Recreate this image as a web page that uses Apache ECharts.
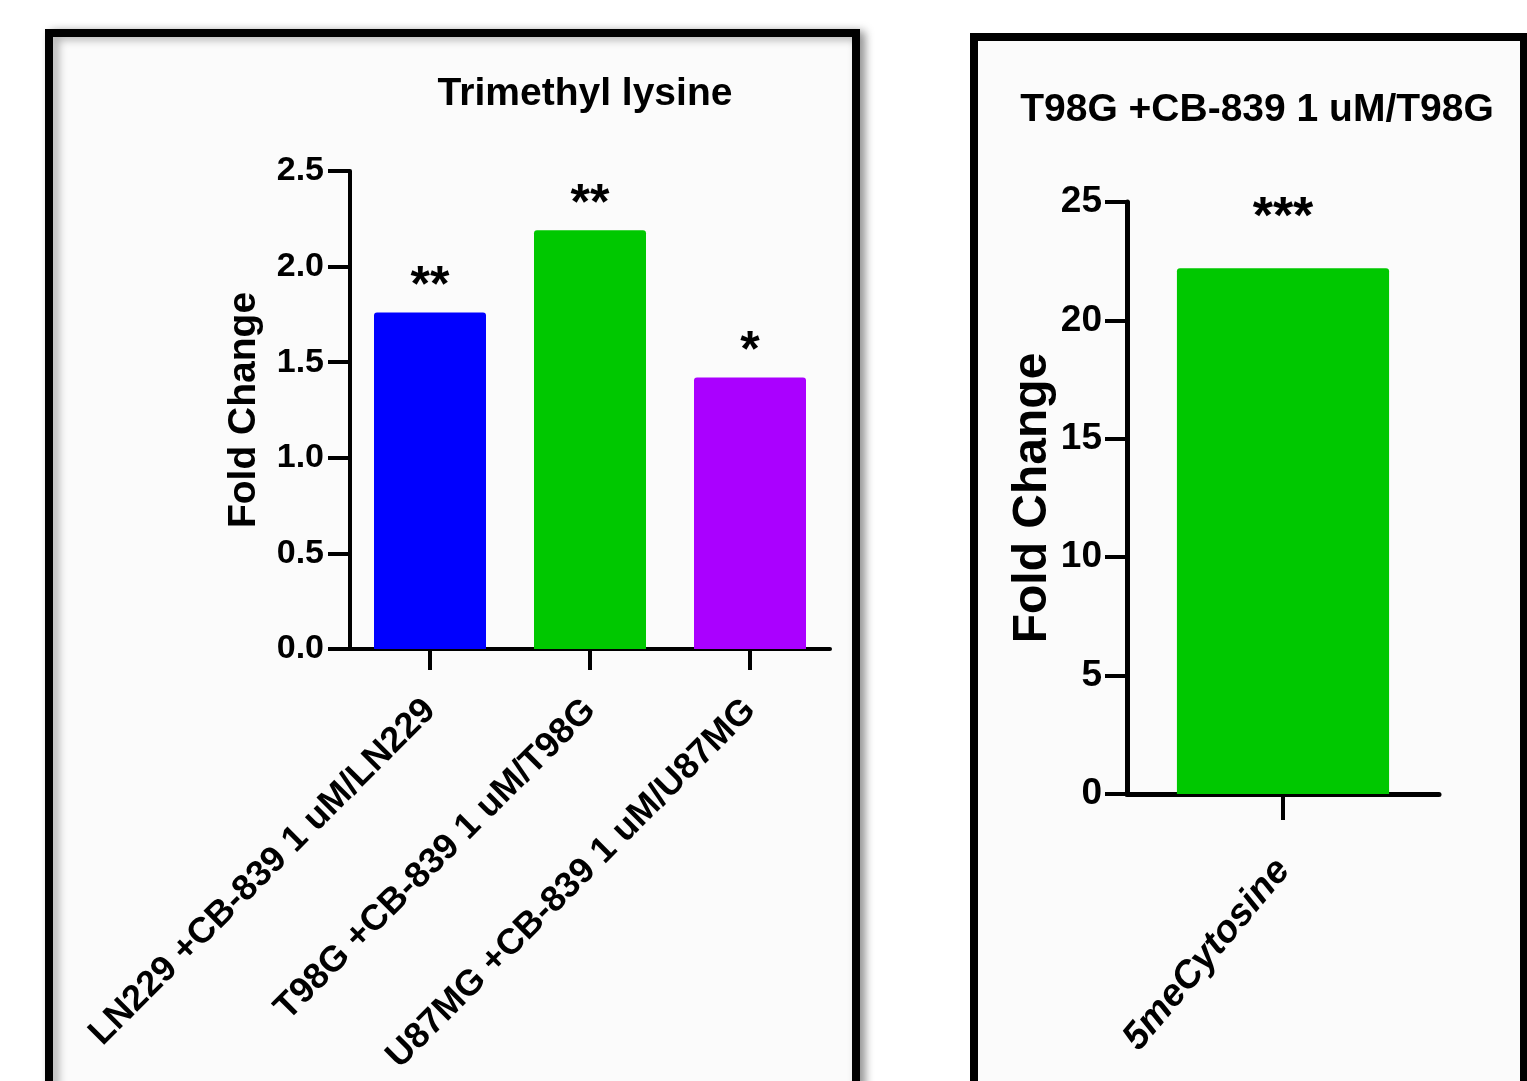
<!DOCTYPE html>
<html>
<head>
<meta charset="utf-8">
<title>Fold Change</title>
<script src="https://cdn.jsdelivr.net/npm/echarts@6/dist/echarts.min.js"></script>
<style>
  html, body { margin: 0; padding: 0; background: #ffffff; }
  #main { width: 1527px; height: 1081px; }
</style>
</head>
<body>
<div id="main"></div>
<script>
// left panel - Trimethyl lysine
var lysineCats = ['LN229 +CB-839 1 uM/LN229', 'T98G +CB-839 1 uM/T98G', 'U87MG +CB-839 1 uM/U87MG'];
var lysineVals = [1.76, 2.19, 1.42];
var lysineSig = ['**', '**', '*'];
var lysineColors = ['#0000ff', '#00c800', '#aa00ff'];
var lysineTicks = [0, 0.5, 1.0, 1.5, 2.0, 2.5];

// right panel - 5meCytosine
var cytoCats = ['5meCytosine'];
var cytoVals = [22.2];
var cytoSig = ['***'];
var cytoTicks = [0, 5, 10, 15, 20, 25];

var arial = '"Liberation Sans", Arial, sans-serif';

var chart = echarts.init(document.getElementById('main'), null, { renderer: 'canvas' });

function axisLine(w) {
  return { show: true, lineStyle: { color: '#000', width: w } };
}

var option = {
  animation: false,
  backgroundColor: '#ffffff',
  graphic: [
    {
      type: 'rect', z: -10,
      shape: { x: 49, y: 33, width: 807, height: 1120 },
      style: { fill: '#fbfbfb', stroke: '#000', lineWidth: 8,
        shadowBlur: 10, shadowOffsetX: 5, shadowOffsetY: 2, shadowColor: 'rgba(0,0,0,0.35)' }
    },
    {
      type: 'rect', z: -10,
      shape: { x: 974, y: 37, width: 550, height: 1120 },
      style: { fill: '#fbfbfb', stroke: '#000', lineWidth: 8 }
    }
  ],
  title: [
    {
      text: 'Trimethyl lysine',
      left: 580, top: 70, textAlign: 'center',
      textStyle: { fontFamily: arial, fontWeight: 'bold', fontSize: 39, color: '#000' }
    },
    {
      text: 'T98G +CB-839 1 uM/T98G',
      left: 1252, top: 86, textAlign: 'center',
      textStyle: { fontFamily: arial, fontWeight: 'bold', fontSize: 39, color: '#000' }
    }
  ],
  grid: [
    { left: 350, top: 171, width: 480, height: 478 },
    { left: 1127, top: 202, width: 312, height: 592 }
  ],
  xAxis: [
    {
      type: 'category', gridIndex: 0, data: lysineCats,
      axisLine: axisLine(4),
      axisTick: { show: true, alignWithLabel: true, length: 21, lineStyle: { color: '#000', width: 4 } },
      axisLabel: {
        rotate: 45, margin: 56, interval: 0,
        fontFamily: arial, fontWeight: 'bold', fontSize: 36, color: '#000'
      }
    },
    {
      type: 'category', gridIndex: 1, data: cytoCats,
      axisLine: axisLine(5),
      axisTick: { show: true, alignWithLabel: true, length: 26, lineStyle: { color: '#000', width: 4 } },
      axisLabel: {
        rotate: 50, margin: 70, interval: 0,
        fontFamily: arial, fontWeight: 'bold', fontStyle: 'italic', fontSize: 38, color: '#000'
      }
    }
  ],
  yAxis: [
    {
      type: 'value', gridIndex: 0,
      min: lysineTicks[0], max: lysineTicks[lysineTicks.length - 1], interval: 0.5,
      name: 'Fold Change', nameLocation: 'middle', nameGap: 86,
      nameTextStyle: { fontFamily: arial, fontWeight: 'bold', fontSize: 39, color: '#000' },
      axisLine: axisLine(4),
      axisTick: { show: true, length: 22, lineStyle: { color: '#000', width: 4 } },
      splitLine: { show: false },
      axisLabel: {
        margin: 26, fontFamily: arial, fontWeight: 'bold', fontSize: 34, color: '#000',
        formatter: function (v) { return v.toFixed(1); }
      }
    },
    {
      type: 'value', gridIndex: 1,
      min: cytoTicks[0], max: cytoTicks[cytoTicks.length - 1], interval: 5,
      name: 'Fold Change', nameLocation: 'middle', nameGap: 66,
      nameTextStyle: { fontFamily: arial, fontWeight: 'bold', fontSize: 48, color: '#000' },
      axisLine: axisLine(5),
      axisTick: { show: true, length: 22, lineStyle: { color: '#000', width: 4 } },
      splitLine: { show: false },
      axisLabel: {
        margin: 25, fontFamily: arial, fontWeight: 'bold', fontSize: 37, color: '#000'
      }
    }
  ],
  series: [
    {
      type: 'bar', xAxisIndex: 0, yAxisIndex: 0,
      barWidth: '70%',
      data: lysineVals.map(function (v, i) {
        return { value: v, itemStyle: { color: lysineColors[i] } };
      }),
      itemStyle: { borderRadius: [3, 3, 0, 0] },
      label: {
        show: true, position: 'top', distance: 0,
        fontFamily: arial, fontWeight: 'bold', fontSize: 50, color: '#000',
        formatter: function (p) { return lysineSig[p.dataIndex]; }
      }
    },
    {
      type: 'bar', xAxisIndex: 1, yAxisIndex: 1,
      barWidth: '68%',
      data: cytoVals,
      itemStyle: { color: '#00c800', borderRadius: [3, 3, 0, 0] },
      label: {
        show: true, position: 'top', distance: 24,
        fontFamily: arial, fontWeight: 'bold', fontSize: 52, color: '#000',
        formatter: function (p) { return cytoSig[p.dataIndex]; }
      }
    }
  ]
};

chart.setOption(option);
</script>
</body>
</html>
